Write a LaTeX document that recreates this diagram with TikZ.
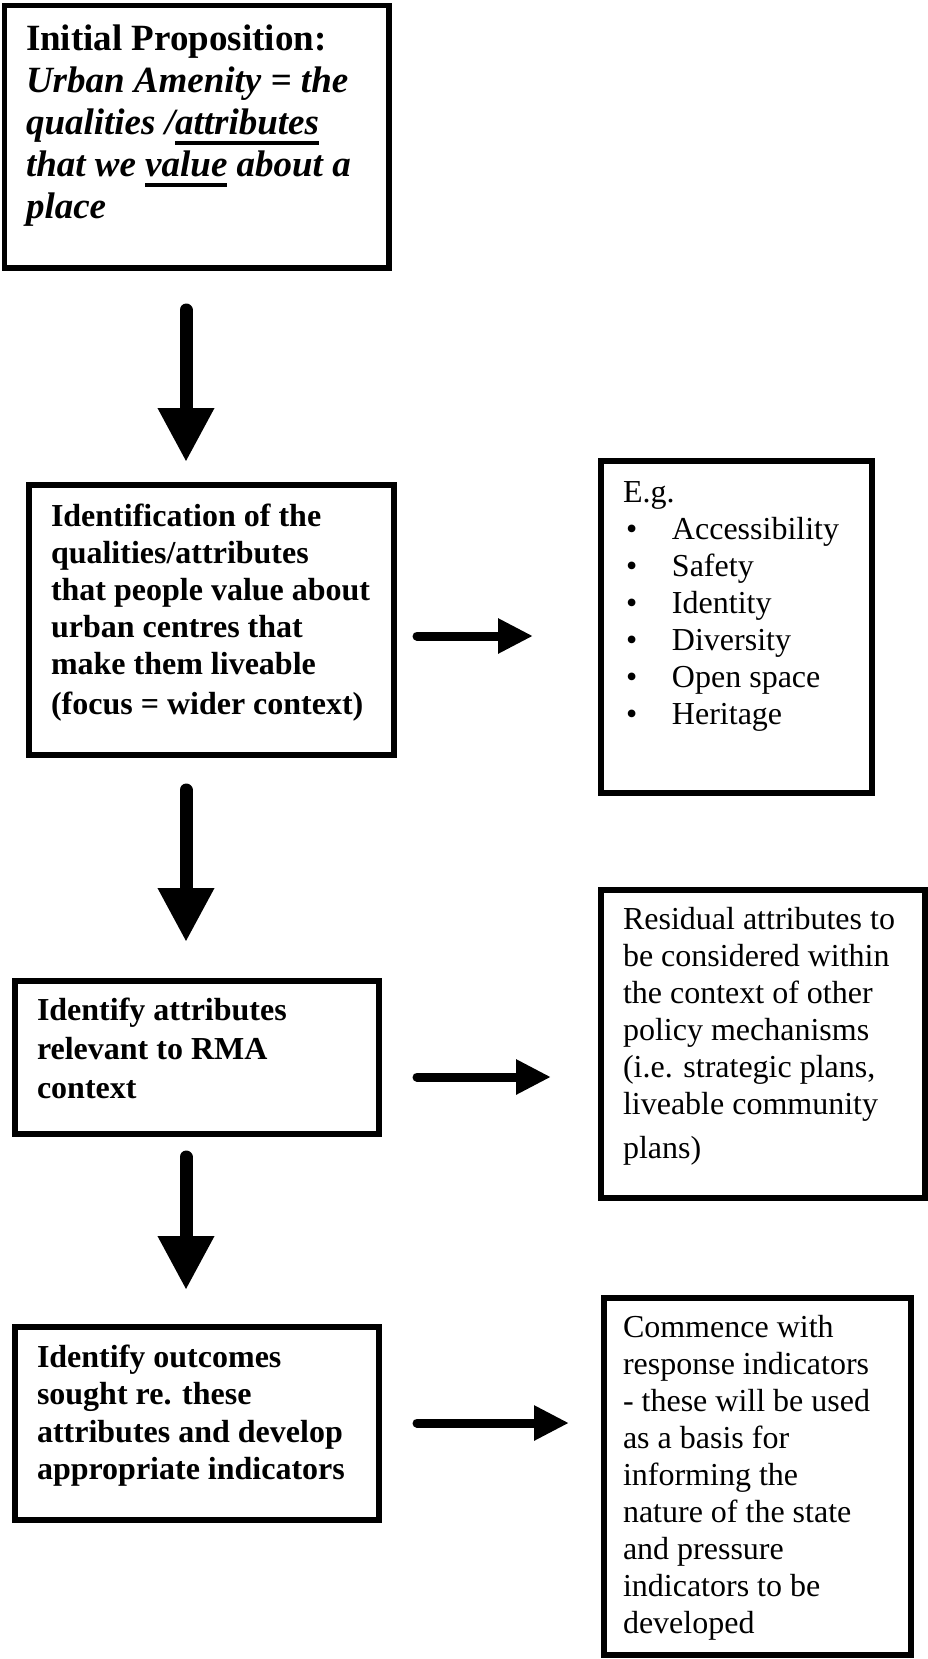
\documentclass[tikz,border=0pt]{standalone}
\usepackage{fontspec}
\setmainfont{Liberation Serif}
\usetikzlibrary{arrows.meta}
\newcommand\ulx[1]{\setbox0\hbox{#1}\rlap{\rule[-10.5pt]{\wd0}{4.2pt}}\box0\relax}
\newcommand\lines[2]{\vtop{\baselineskip=#1\lineskiplimit=-20pt\lineskip=0pt #2}}
\newcommand\bul{\hbox to 49pt{\kern3pt•\hfil}}
\begin{document}
\begin{tikzpicture}[x=1pt,y=-1pt,
  box/.style={draw, line width=5.5pt, inner sep=0pt, outer sep=0pt},
  txt/.style={anchor=base west, inner sep=0pt, outer sep=0pt},
  varrow/.style={line width=13pt, line cap=round, -{Triangle[length=54pt,width=53pt]}},
  harrow/.style={line width=9pt, line cap=round, -{Triangle[length=35pt,width=33pt]}},
  body/.style={font=\fontsize{32pt}{37pt}\selectfont},
  bodyb/.style={font=\fontsize{32pt}{37pt}\selectfont\bfseries}]
\useasboundingbox (0,0) rectangle (928,1659);
% boxes
\node[box, minimum width=384.5pt, minimum height=262.5pt] (B1) at (196.75,136.75) {};
\node[box, minimum width=365pt, minimum height=270pt] (B2) at (211.5,620) {};
\node[box, minimum width=271pt, minimum height=332pt] (B3) at (736.5,627) {};
\node[box, minimum width=364pt, minimum height=153pt] (B4) at (197,1057.5) {};
\node[box, minimum width=324pt, minimum height=308pt] (B5) at (763,1044) {};
\node[box, minimum width=364pt, minimum height=193pt] (B6) at (197,1423.5) {};
\node[box, minimum width=307pt, minimum height=357pt] (B7) at (757.5,1476.5) {};
% texts
\node[txt, font=\fontsize{37pt}{42pt}\selectfont\bfseries] (T1) at (26,51)
  {\lines{42pt}{\hbox{Initial Proposition:}\hbox{\itshape Urban Amenity = the}\hbox{\itshape qualities /\ulx{attributes}}\hbox{\itshape that we \ulx{value} about a}\hbox{\itshape place}}};
\node[txt, bodyb] (T2) at (51,526)
  {\lines{37pt}{\hbox{Identification of the}\hbox{qualities/attributes}\hbox{that people value about}\hbox{urban centres that}\hbox{make them liveable}\vskip3pt\hbox{(focus = wider context)}}};
\node[txt, body] (T3) at (623,502)
  {\lines{37pt}{\hbox{E.g.}\hbox{\bul Accessibility}\hbox{\bul Safety}\hbox{\bul Identity}\hbox{\bul Diversity}\hbox{\bul Open space}\hbox{\bul Heritage}}};
\node[txt, bodyb] (T4) at (37,1020)
  {\lines{39pt}{\hbox{Identify attributes}\hbox{relevant to RMA}\hbox{context}}};
\node[txt, body] (T5) at (623,929)
  {\lines{37pt}{\hbox{Residual attributes to}\hbox{be considered within}\hbox{the context of other}\hbox{policy mechanisms}\hbox{(i.e. strategic plans,}\hbox{liveable community}\vskip7pt\hbox{plans)}}};
\node[txt, bodyb] (T6) at (37,1367)
  {\lines{37.5pt}{\hbox{Identify outcomes}\hbox{sought re. these}\hbox{attributes and develop}\hbox{appropriate indicators}}};
\node[txt, body] (T7) at (623,1337)
  {\lines{37pt}{\hbox{Commence with}\hbox{response indicators}\hbox{- these will be used}\hbox{as a basis for}\hbox{informing the}\hbox{nature of the state}\hbox{and pressure}\hbox{indicators to be}\hbox{developed}}};
% connectors
\coordinate (ax) at (186,0);
\coordinate (h1) at (0,636);
\coordinate (h2) at (0,1077);
\coordinate (h3) at (0,1423);
\draw[varrow, shorten <=42pt, shorten >=23pt] (B1.south -| ax) -- (B2.north -| ax);
\draw[varrow, shorten <=35pt, shorten >=39pt] (B2.south -| ax) -- (B4.north -| ax);
\draw[varrow, shorten <=23pt, shorten >=37pt] (B4.south -| ax) -- (B6.north -| ax);
\draw[harrow, shorten <=23pt, shorten >=68pt] (B2.east |- h1) -- (B3.west |- h1);
\draw[harrow, shorten <=38pt, shorten >=50pt] (B4.east |- h2) -- (B5.west |- h2);
\draw[harrow, shorten <=38pt, shorten >=35pt] (B6.east |- h3) -- (B7.west |- h3);
\end{tikzpicture}
\end{document}
